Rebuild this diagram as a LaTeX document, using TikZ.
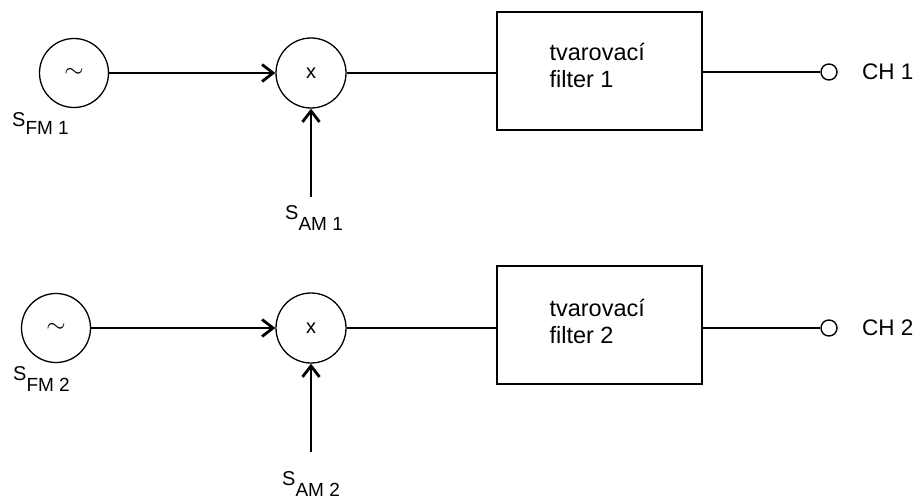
\documentclass[tikz,border=0pt]{standalone}
\usepackage{fontspec}
\setmainfont{Liberation Sans}
\usetikzlibrary{arrows.meta}
\newcommand{\sublbl}[2]{S\raisebox{-#2pt}{\fontsize{19}{19}\selectfont #1}}
\begin{document}
\begin{tikzpicture}[x=1pt,y=-1pt,
  osc/.style={circle,draw,line width=1.3pt,minimum size=69pt,inner sep=0pt,font=\fontsize{28}{28}\selectfont},
  mix/.style={circle,draw,line width=1.3pt,minimum size=70pt,inner sep=0pt,font=\fontsize{20}{20}\selectfont},
  filt/.style={draw,line width=1.6pt,minimum width=205pt,minimum height=118pt,inner sep=0pt},
  ftext/.style={align=left,font=\fontsize{23.5}{27}\selectfont},
  port/.style={circle,draw,line width=1.4pt,minimum size=16pt,inner sep=0pt},
  lbl/.style={font=\fontsize{20}{20}\selectfont,anchor=base west,inner sep=0pt},
  chl/.style={font=\fontsize{22.5}{22.5}\selectfont,anchor=west,inner sep=0pt},
  thick arr/.style={line width=2.8pt,-{Straight Barb[length=11pt,width=17pt,line width=2.8pt]}},
  thin/.style={line width=1.4pt}]
\useasboundingbox (0,0) rectangle (922,500);
% row 1
\node[osc] (o1) at (74,73) {$\sim$};
\node[mix] (m1) at (311,73) {x};
\node[filt] (f1) at (599.5,71) {};
\node[ftext,anchor=north west] (t1) at (546,40) {tvarovací\\filter 1};
\node[port] (p1) at (829,72) {};
\node[chl] (c1) at (862,72) {CH 1};
\node[lbl] (sf1) at (12,127) {\sublbl{FM 1}{8}};
\node[lbl] (sa1) at (285,220) {\sublbl{AM 1}{10}};
\coordinate (a1) at (311,197);
\draw[thick arr] (o1) -- (m1);
\draw[thick arr] (a1) -- (m1);
\draw[thin] (m1.east) -- (f1.west |- m1.east);
\draw[thin] (f1.east |- p1.west) -- (p1.west);
% row 2
\node[osc] (o2) at (56,328) {$\sim$};
\node[mix] (m2) at (311,328) {x};
\node[filt] (f2) at (599.5,325) {};
\node[ftext,anchor=north west] (t2) at (546,296) {tvarovací\\filter 2};
\node[port] (p2) at (829,328) {};
\node[chl] (c2) at (862,328) {CH 2};
\node[lbl] (sf2) at (13,380) {\sublbl{FM 2}{11}};
\node[lbl] (sa2) at (282,485) {\sublbl{AM 2}{11}};
\coordinate (a2) at (311,452);
\draw[thick arr] (o2) -- (m2);
\draw[thick arr] (a2) -- (m2);
\draw[thin] (m2.east) -- (f2.west |- m2.east);
\draw[thin] (f2.east |- p2.west) -- (p2.west);
\end{tikzpicture}
\end{document}
